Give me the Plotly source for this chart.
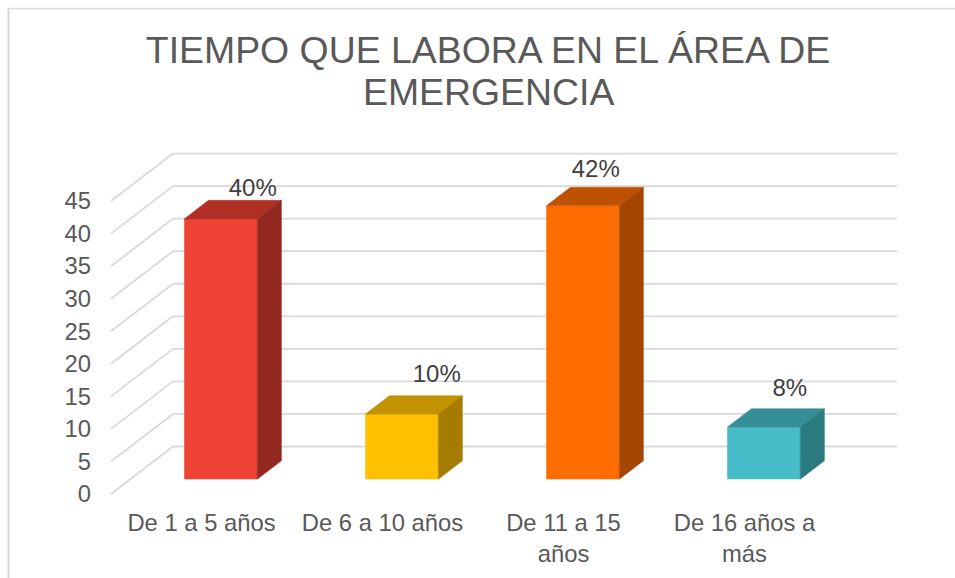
import plotly.graph_objects as go

TITLE = "TIEMPO QUE LABORA EN EL ÁREA DE"
TITLE_LINE2 = "EMERGENCIA"
CATEGORIES = ["De 1 a 5 años", "De 6 a 10 años", "De 11 a 15<br>años", "De 16 años a<br>más"]
VALUES = [40, 10, 42, 8]
LABELS = ["40%", "10%", "42%", "8%"]
Y_TICKS = [0, 5, 10, 15, 20, 25, 30, 35, 40, 45]

FRONT = ["#EE4335", "#FFC000", "#FF6D00", "#45BCC7"]
TOP = ["#B03026", "#C29200", "#BF5200", "#348F97"]
SIDE = ["#932820", "#A67C00", "#A34600", "#2B7A80"]
GRID = "#D9D9D9"
TEXT = "#595959"

# oblique projection of the chart box, in axis units
PX_X = 181.0      # pixels per category
PX_Y = 6.51       # pixels per value unit
DEPTH_X = 62 / PX_X
DEPTH_Y = 47.5 / PX_Y
BAR_W = 73 / PX_X
D0, D1 = 0.31, 0.70
# manual placement of the data labels relative to the bar's front top centre (pixels)
LABEL_DX = [32, 35, 13, 26]
LABEL_DY = [29, 38, 35, 37]

W, H = 955, 578
X0, Y0 = 111, 494            # pixel position of the chart box origin
PAD = 3
L, R, B, T = X0 - PAD, 897 + PAD, Y0 + PAD, 154 - PAD


def proj(x, y, d):
    return x + d * DEPTH_X, y + d * DEPTH_Y


def px(v):
    return (v - L) / (R - L)


def py(v):
    return (B - v) / (B - T)


fig = go.Figure()
centers = [i + 0.5 for i in range(len(VALUES))]

fig.add_trace(go.Bar(
    x=[proj(c, 0, D0)[0] for c in centers], y=VALUES,
    base=[proj(0, 0, D0)[1]] * len(VALUES),
    width=BAR_W, marker=dict(color=FRONT, line=dict(width=0)),
    showlegend=False, hoverinfo="skip"))

for c, v, top, side in zip(centers, VALUES, TOP, SIDE):
    x0, x1 = c - BAR_W / 2, c + BAR_W / 2
    pts = [proj(x0, v, D0), proj(x1, v, D0), proj(x1, v, D1), proj(x0, v, D1), proj(x0, v, D0)]
    fig.add_trace(go.Scatter(x=[p[0] for p in pts], y=[p[1] for p in pts], mode="lines",
                             fill="toself", fillcolor=top, line=dict(color=top, width=0.5),
                             showlegend=False, hoverinfo="skip"))
    pts = [proj(x1, 0, D0), proj(x1, 0, D1), proj(x1, v, D1), proj(x1, v, D0), proj(x1, 0, D0)]
    fig.add_trace(go.Scatter(x=[p[0] for p in pts], y=[p[1] for p in pts], mode="lines",
                             fill="toself", fillcolor=side, line=dict(color=side, width=0.5),
                             showlegend=False, hoverinfo="skip"))

fig.add_trace(go.Scatter(
    x=[proj(c, 0, D0)[0] + dx / PX_X for c, dx in zip(centers, LABEL_DX)],
    y=[proj(0, v, D0)[1] + dy / PX_Y for v, dy in zip(VALUES, LABEL_DY)],
    mode="text", text=LABELS, textposition="middle center",
    textfont=dict(family="Liberation Sans", size=24, color="#404040"),
    showlegend=False, hoverinfo="skip", cliponaxis=False))

shapes = []
n = len(CATEGORIES)
for t in Y_TICKS:
    a = proj(0, t, 0)
    b = proj(0, t, 1)
    e = proj(n, t, 1)
    for p, q in ((a, b), (b, e)):
        shapes.append(dict(type="line", xref="x", yref="y", x0=p[0], y0=p[1], x1=q[0], y1=q[1],
                           line=dict(color=GRID, width=1.8), layer="below"))
# chart frame
shapes.append(dict(type="line", xref="paper", yref="paper",
                   x0=px(8.5), x1=px(8.5), y0=py(578), y1=py(8.5),
                   line=dict(color=GRID, width=2), layer="below"))
shapes.append(dict(type="line", xref="paper", yref="paper",
                   x0=px(8), x1=px(955), y0=py(8.5), y1=py(8.5),
                   line=dict(color=GRID, width=1.5), layer="below"))

fig.update_layout(
    width=W, height=H, autosize=False,
    margin=dict(l=L, r=W - R, t=T, b=H - B, pad=0, autoexpand=False),
    paper_bgcolor="white", plot_bgcolor="white",
    barmode="overlay", hovermode=False, showlegend=False,
    shapes=shapes,
    title=dict(text=TITLE, x=488 / W, xanchor="center", y=1 - 50 / H, yanchor="middle",
               font=dict(family="Liberation Sans", size=37.4, color=TEXT)),
    annotations=[dict(text=TITLE_LINE2, xref="paper", yref="paper", x=px(488), y=py(92),
                      xanchor="center", yanchor="middle", showarrow=False,
                      font=dict(family="Liberation Sans", size=37.4, color=TEXT))],
    xaxis=dict(range=[-PAD / PX_X, (897 + PAD - X0) / PX_X], tickmode="array", tickvals=centers,
               ticktext=CATEGORIES, showgrid=False, zeroline=False, showline=False, ticks="",
               ticklabelstandoff=9, automargin=False,
               tickfont=dict(family="Liberation Sans", size=23.8, color=TEXT)),
    yaxis=dict(range=[-PAD / PX_Y, (Y0 - 154 + PAD) / PX_Y], tickmode="array", tickvals=Y_TICKS,
               showgrid=False, zeroline=False, showline=False, ticks="", ticklabelstandoff=16,
               automargin=False,
               tickfont=dict(family="Liberation Sans", size=23.8, color=TEXT)),
)
fig.write_html("out.html", post_script="document.body.style.margin='0';",
               config={"displayModeBar": False})
